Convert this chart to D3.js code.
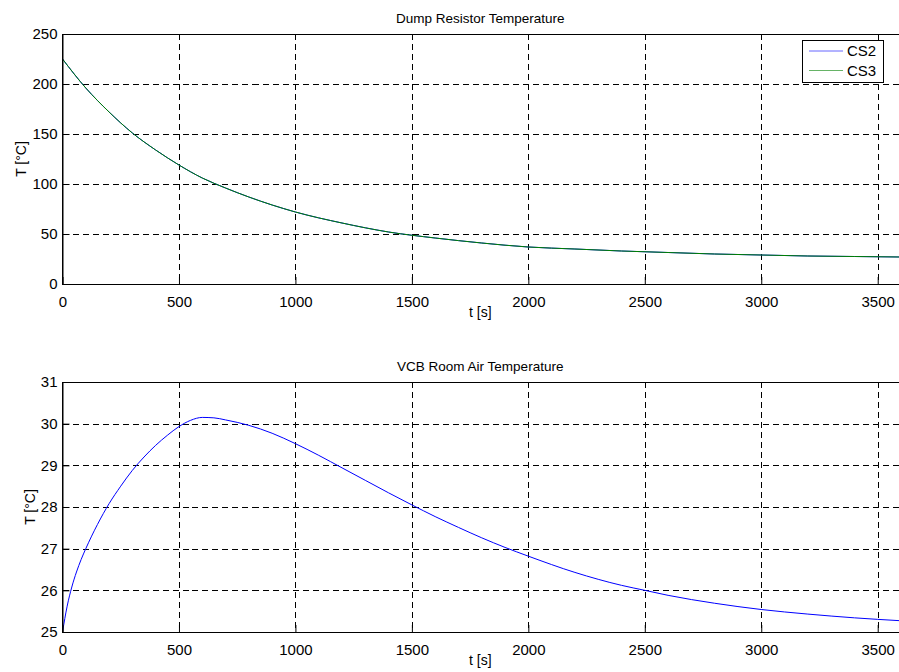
<!DOCTYPE html>
<html lang="en">
    <head>
        <meta charset="UTF-8">
        <style>
            html, body{
                margin: 0;
                padding: 0;
                background: #fff;
            }
            svg text{
                font-family: 'Liberation Sans', Arial, Helvetica, sans-serif;
                fill: #000;
            }
            .grid line{
                stroke: #000;
                stroke-width: 1;
                stroke-dasharray: 6,4;
                shape-rendering: crispEdges;
            }
            .frame{
                fill: none;
                stroke: #000;
                stroke-width: 1;
                shape-rendering: crispEdges;
            }
        </style>
    </head>
    <body>
        <svg id="chart" width="899" height="672"></svg>

        <script src="https://cdn.jsdelivr.net/npm/d3@7"></script>
        <script>
            // ---- data ----
            const xTicks = [0, 500, 1000, 1500, 2000, 2500, 3000, 3500]
            const topTicks = [0, 50, 100, 150, 200, 250]
            const bottomTicks = [25, 26, 27, 28, 29, 30, 31]

            // dump resistor temperature (both cases overlap)
            const dumpTime = [0, 100, 200, 300, 400, 500, 600, 700, 800, 900, 1000, 1200, 1400, 1600, 1800, 2000, 2200, 2400, 2600, 2800, 3000, 3200, 3400, 3600]
            const dumpCS2  = [225, 196, 172, 151, 134, 119, 106, 96, 87, 79, 72, 61, 52, 46, 41, 37, 35, 33, 31.5, 30, 29, 28, 27.5, 27]
            const dumpCS3  = [225, 196, 172, 151, 134, 119, 106, 96, 87, 79, 72, 61, 52, 46, 41, 37, 35, 33, 31.5, 30, 29, 28, 27.5, 27]

            // VCB room air temperature
            const roomTime = [0, 20, 40, 60, 80, 100, 150, 200, 250, 300, 350, 400, 450, 500, 550, 600, 650, 700, 800, 900, 1000, 1100, 1200, 1300, 1400, 1500, 1600, 1700, 1800, 1900, 2000, 2200, 2400, 2500, 2600, 2800, 3000, 3200, 3400, 3600]
            const roomTemp = [25, 25.62, 26.08, 26.44, 26.74, 27.0, 27.58, 28.08, 28.5, 28.88, 29.2, 29.48, 29.72, 29.93, 30.08, 30.15, 30.14, 30.09, 29.96, 29.77, 29.52, 29.24, 28.94, 28.64, 28.34, 28.05, 27.77, 27.51, 27.26, 27.03, 26.82, 26.43, 26.12, 26.0, 25.88, 25.69, 25.54, 25.43, 25.34, 25.27]

            const legendNames = ['CS2', 'CS3']
            const legendColors = ['#0000ff', '#008000']

            // ---- layout ----
            const svg = d3.select('#chart')
            svg.append('rect').attr('width', 899).attr('height', 672).attr('fill', '#fff')

            const left = 62.5, right = 901
            const x = d3.scaleLinear().domain([0, 3600]).range([left, right])

            function drawPanel(opts){
                const y = d3.scaleLinear().domain(opts.yDomain).range([opts.bottom, opts.top])
                const g = svg.append('g')

                // grid
                const grid = g.append('g').attr('class', 'grid')
                grid.selectAll('.gx').data(xTicks.filter(d => d > 0)).join('line')
                    .attr('x1', d => Math.round(x(d)) + 0.5).attr('x2', d => Math.round(x(d)) + 0.5)
                    .attr('y1', opts.top).attr('y2', opts.bottom)
                grid.selectAll('.gy').data(opts.yTicks.slice(1, -1)).join('line')
                    .attr('x1', left).attr('x2', right)
                    .attr('y1', d => Math.round(y(d)) + 0.5).attr('y2', d => Math.round(y(d)) + 0.5)

                // series
                opts.series.forEach(s => {
                    const line = d3.line()
                        .x((d, i) => x(s.t[i]))
                        .y(d => y(d))
                        .curve(d3.curveMonotoneX)
                    g.append('path')
                        .datum(s.v)
                        .attr('d', line)
                        .attr('fill', 'none')
                        .attr('stroke', s.color)
                        .attr('stroke-width', 1)
                })

                // frame
                g.append('rect').attr('class', 'frame')
                    .attr('x', left).attr('y', opts.top)
                    .attr('width', right - left).attr('height', opts.bottom - opts.top)

                // axes (inward ticks, MATLAB style)
                const xAxis = d3.axisBottom(x).tickValues(xTicks).tickFormat(d3.format('d'))
                    .tickSize(-7).tickSizeOuter(0).tickPadding(12)
                const xa = g.append('g').attr('transform', `translate(0,${opts.bottom})`).call(xAxis)
                const yAxis = d3.axisLeft(y).tickValues(opts.yTicks).tickFormat(d3.format('d'))
                    .tickSize(-7).tickSizeOuter(0).tickPadding(5)
                const ya = g.append('g').attr('transform', `translate(${left},0)`).call(yAxis)
                ;[xa, ya].forEach(a => {
                    a.select('.domain').attr('stroke', '#000')
                    a.selectAll('.tick line').attr('stroke', '#000')
                    a.selectAll('.tick text').attr('font-size', 15).attr('font-family', null)
                })
                xa.selectAll('.tick text').attr('dy', '0.71em')

                // labels
                g.append('text').attr('x', (left + 898) / 2).attr('y', opts.top - 11)
                    .attr('text-anchor', 'middle').attr('font-size', 13.5).text(opts.title)
                g.append('text').attr('x', (left + 898) / 2).attr('y', opts.bottom + 33)
                    .attr('text-anchor', 'middle').attr('font-size', 14).text('t [s]')
                g.append('text')
                    .attr('transform', `translate(${opts.labelX},${(opts.top + opts.bottom) / 2}) rotate(-90)`)
                    .attr('text-anchor', 'middle').attr('font-size', 14).text('T [°C]')
                return g
            }

            drawPanel({
                top: 34, bottom: 284, labelX: 26,
                yDomain: [0, 250], yTicks: topTicks,
                title: 'Dump Resistor Temperature',
                series: [
                    {t: dumpTime, v: dumpCS2, color: legendColors[0]},
                    {t: dumpTime, v: dumpCS3, color: legendColors[1]}
                ]
            })

            drawPanel({
                top: 382, bottom: 632, labelX: 35,
                yDomain: [25, 31], yTicks: bottomTicks,
                title: 'VCB Room Air Temperature',
                series: [
                    {t: roomTime, v: roomTemp, color: legendColors[0]}
                ]
            })

            // legend
            const legend = svg.append('g').attr('transform', 'translate(802,40)')
            legend.append('rect').attr('width', 81).attr('height', 42)
                .attr('fill', '#fff').attr('stroke', '#000').attr('shape-rendering', 'crispEdges')
            legendNames.forEach((name, i) => {
                const ly = 11 + i * 19.5
                legend.append('line').attr('x1', 7).attr('x2', 41).attr('y1', ly).attr('y2', ly)
                    .attr('stroke', legendColors[i]).attr('stroke-opacity', 0.6)
                legend.append('text').attr('x', 45).attr('y', ly).attr('dy', '0.35em')
                    .attr('font-size', 15).text(name)
            })
        </script>
    </body>
</html>
